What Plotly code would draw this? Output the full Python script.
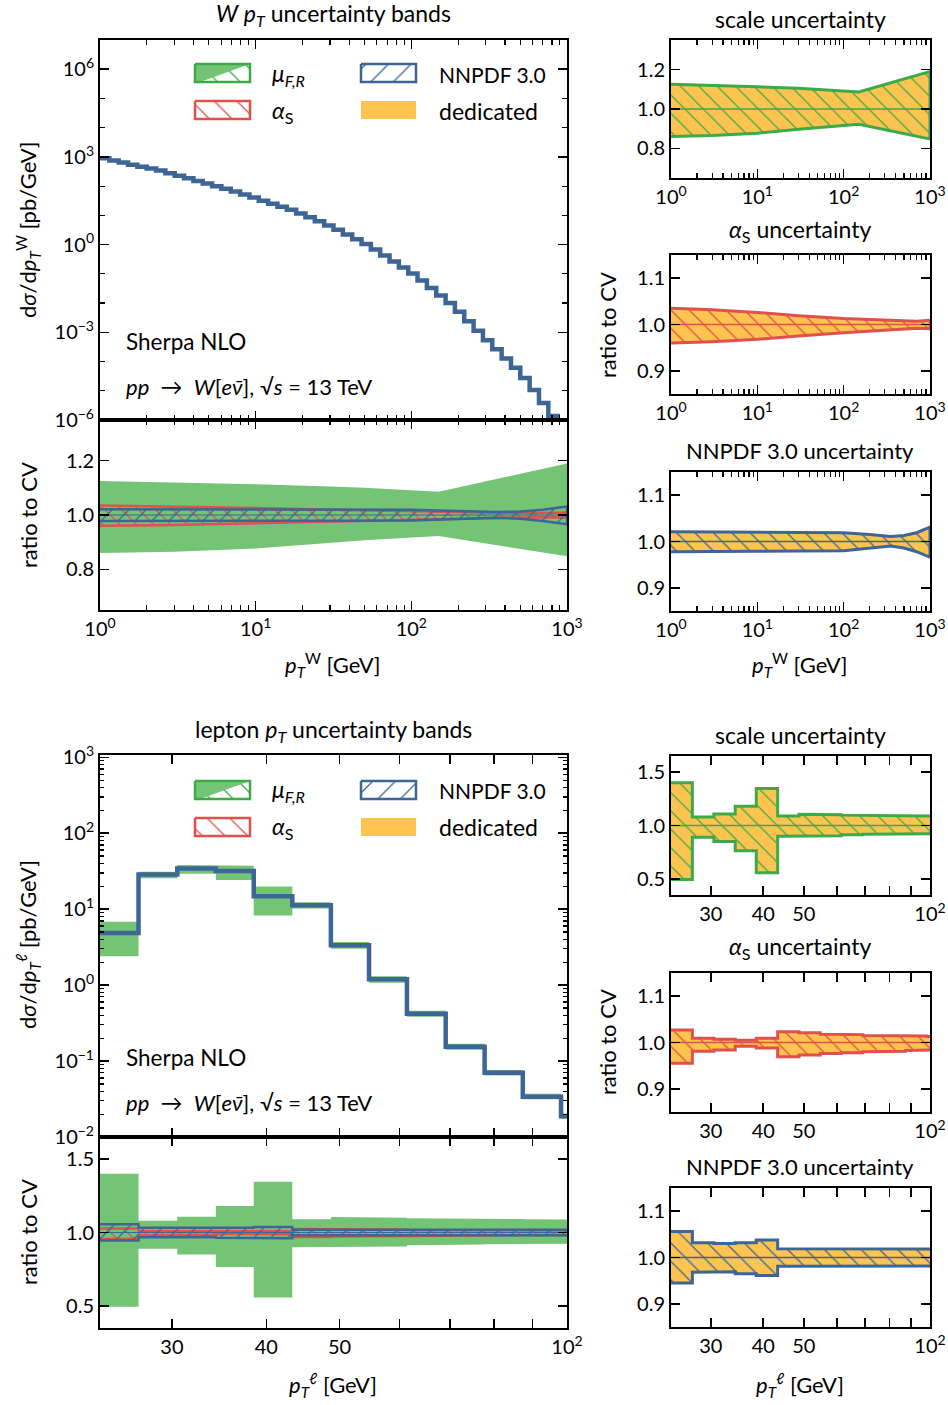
import plotly.graph_objects as go

W, H = 948, 1405
FONT = "Lato"

# ---------------- W pT distribution ----------------
w_edges = [1.0, 1.148, 1.318, 1.514, 1.738, 1.995, 2.291, 2.630, 3.020, 3.467,
           3.981, 4.571, 5.248, 6.026, 6.918, 7.943, 9.120, 10.47, 12.02, 13.80,
           15.85, 18.20, 20.89, 23.99, 27.54, 31.62, 36.31, 41.69, 47.86, 54.95,
           63.10, 72.44, 83.18, 95.50, 109.6, 125.9, 144.5, 166.0, 190.5, 218.8,
           251.2, 288.4, 331.1, 380.2, 436.5, 501.2, 575.4, 660.7, 758.6, 871.0, 1000.0]
w_xsec = [900, 760, 640, 545, 465, 398, 340, 279, 228, 185,
          151, 123, 100, 82.2, 65.2, 51.4, 40.6, 31.9, 25.2, 19.9,
          15.6, 11.7, 8.55, 6.24, 4.55, 3.23, 2.22, 1.53, 1.05, 0.681,
          0.424, 0.264, 0.164, 0.102, 0.0589, 0.0327, 0.0182, 0.0101, 5.06e-3, 2.40e-3,
          1.14e-3, 5.35e-4, 2.61e-4, 1.27e-4, 6.19e-5, 2.73e-5, 1.07e-5, 3.85e-6, 1.36e-6, 5.0e-7]

w_scale_pt = [1, 3, 10, 30, 50, 150, 1000]
w_scale_up = [1.125, 1.120, 1.113, 1.105, 1.100, 1.086, 1.190]
w_scale_dn = [0.860, 0.865, 0.877, 0.897, 0.907, 0.923, 0.848]

w_alpha_pt = [1, 3, 10, 30, 100, 300, 700, 1000]
w_alpha_up = [1.035, 1.032, 1.026, 1.019, 1.013, 1.009, 1.007, 1.009]
w_alpha_dn = [0.960, 0.963, 0.968, 0.975, 0.982, 0.988, 0.992, 0.991]

w_pdf_pt = [1, 10, 100, 200, 350, 500, 700, 1000]
w_pdf_up = [1.021, 1.020, 1.019, 1.015, 1.011, 1.013, 1.019, 1.031]
w_pdf_dn = [0.978, 0.979, 0.980, 0.985, 0.990, 0.986, 0.978, 0.966]

# ---------------- lepton pT distribution ----------------
l_edges = [24.1, 27.1, 30.5, 34.3, 38.5, 43.3, 48.7, 54.7, 61.4, 69.1, 77.8, 87.4, 98.2, 110.4]
l_xsec = [4.86, 28.7, 34.4, 31.7, 14.8, 11.3, 3.35, 1.19, 0.42, 0.154, 0.070, 0.034, 0.0188]
l_scale_up = [1.40, 1.08, 1.107, 1.18, 1.345, 1.09, 1.105, 1.10, 1.097, 1.095, 1.092, 1.09, 1.088]
l_scale_dn = [0.495, 0.89, 0.85, 0.765, 0.557, 0.90, 0.90, 0.905, 0.913, 0.918, 0.92, 0.922, 0.925]
l_alpha_up = [1.027, 1.009, 1.007, 1.005, 1.009, 1.023, 1.021, 1.018, 1.017, 1.015, 1.014, 1.014, 1.013]
l_alpha_dn = [0.955, 0.981, 0.984, 0.992, 0.988, 0.969, 0.973, 0.976, 0.978, 0.980, 0.981, 0.983, 0.984]
l_pdf_up = [1.056, 1.032, 1.030, 1.032, 1.038, 1.019, 1.019, 1.019, 1.019, 1.018, 1.018, 1.018, 1.018]
l_pdf_dn = [0.945, 0.968, 0.969, 0.965, 0.961, 0.981, 0.981, 0.981, 0.982, 0.982, 0.982, 0.982, 0.982]

# ---------------- styles ----------------
GREEN_FILL = "#74c476"
GREEN = "#3daa48"
RED = "#e0504c"
BLUE = "#3d6595"
YELLOW = "#fec44f"
CLEAR = "rgba(0,0,0,0)"
TXT = 23


def steps(edges, vals):
    xs, ys = [], []
    for i, v in enumerate(vals):
        xs += [edges[i], edges[i + 1]]
        ys += [v, v]
    return xs, ys


def poly(x, up, dn):
    return list(x) + list(x)[::-1], list(up) + list(dn)[::-1]


def step_poly(edges, up, dn):
    xs, yu = steps(edges, up)
    _, yd = steps(edges, dn)
    return poly(xs, yu, yd)


def scaled(central, ratio):
    return [c * r for c, r in zip(central, ratio)]


fig = go.Figure()


def ax_ref(n):
    return ("x" if n == 1 else f"x{n}"), ("y" if n == 1 else f"y{n}")


def add_area(n, xs, ys, fill=None, pattern=None, lc=None, lw=0.0):
    xa, ya = ax_ref(n)
    kw = {}
    if pattern is not None:
        kw["fillpattern"] = pattern
    fig.add_trace(go.Scatter(
        x=xs, y=ys, xaxis=xa, yaxis=ya, mode="lines", fill="toself",
        fillcolor=fill if fill else CLEAR,
        line=dict(color=lc if lc else CLEAR, width=lw),
        hoverinfo="skip", showlegend=False, **kw))


def add_line(n, xs, ys, color, width, shape="linear"):
    xa, ya = ax_ref(n)
    fig.add_trace(go.Scatter(x=xs, y=ys, xaxis=xa, yaxis=ya, mode="lines",
                             line=dict(color=color, width=width, shape=shape),
                             hoverinfo="skip", showlegend=False))


def hatch(shape, fg, bg=CLEAR, size=12, solidity=0.11):
    return dict(shape=shape, fgcolor=fg, bgcolor=bg, size=size, solidity=solidity, fillmode="replace")


# ======== top block (W pT) ========
sx, sy = steps(w_edges, w_xsec)
add_line(1, sx, sy, BLUE, 4.5)

add_area(2, *poly(w_scale_pt, w_scale_up, w_scale_dn), fill=GREEN_FILL)
add_area(2, *poly(w_alpha_pt, w_alpha_up, w_alpha_dn), pattern=hatch("\\", RED), lc=RED, lw=2.5)
add_area(2, *poly(w_pdf_pt, w_pdf_up, w_pdf_dn), pattern=hatch("/", BLUE), lc=BLUE, lw=2.5)
add_line(2, [1, 1000], [1, 1], BLUE, 1.2)

for n, (xp, up, dn, col) in zip([3, 4, 5], [(w_scale_pt, w_scale_up, w_scale_dn, GREEN),
                                          (w_alpha_pt, w_alpha_up, w_alpha_dn, RED),
                                          (w_pdf_pt, w_pdf_up, w_pdf_dn, BLUE)]):
    add_area(n, *poly(xp, up, dn), pattern=hatch("\\", col, YELLOW, 13, 0.1), lc=col, lw=3)
    add_line(n, [1, 1000], [1, 1], col, 1.5)

# ======== bottom block (lepton pT) ========
add_area(6, *step_poly(l_edges, scaled(l_xsec, l_scale_up), scaled(l_xsec, l_scale_dn)), fill=GREEN_FILL)
sx, sy = steps(l_edges, l_xsec)
add_line(6, sx, sy, BLUE, 4.5)

add_area(7, *step_poly(l_edges, l_scale_up, l_scale_dn), fill=GREEN_FILL)
add_area(7, *step_poly(l_edges, l_alpha_up, l_alpha_dn), pattern=hatch("\\", RED), lc=RED, lw=2.5)
add_area(7, *step_poly(l_edges, l_pdf_up, l_pdf_dn), pattern=hatch("/", BLUE), lc=BLUE, lw=2.5)
add_line(7, [l_edges[0], 100], [1, 1], BLUE, 1.2)

for n, (up, dn, col) in zip([8, 9, 10], [(l_scale_up, l_scale_dn, GREEN),
                                        (l_alpha_up, l_alpha_dn, RED),
                                        (l_pdf_up, l_pdf_dn, BLUE)]):
    add_area(n, *step_poly(l_edges, up, dn), pattern=hatch("\\", col, YELLOW, 13, 0.1), lc=col, lw=3)
    add_line(n, [l_edges[0], 100], [1, 1], col, 1.5)


# ======== legends (overlay axis in pixel units) ========
def rect(x0, x1, y0, y1):
    return [x0, x1, x1, x0, x0], [y0, y0, y1, y1, y0]


for dy in (0, 717):
    add_area(11, *rect(195, 250, 64 + dy, 82 + dy), pattern=hatch("\\", GREEN, "white", 16, 0.08))
    add_area(11, [195, 250, 200, 195, 195], [64 + dy, 64 + dy, 82 + dy, 82 + dy, 64 + dy], fill=GREEN_FILL)
    add_area(11, *rect(195, 250, 64 + dy, 82 + dy), lc=GREEN, lw=2.5)
    add_area(11, *rect(195, 250, 101 + dy, 119 + dy), pattern=hatch("\\", RED, "white", 16, 0.08), lc=RED, lw=2.5)
    add_area(11, *rect(361, 416, 64 + dy, 82 + dy), pattern=hatch("/", BLUE, "white", 16, 0.08), lc=BLUE, lw=2.5)
    add_area(11, *rect(361, 416, 101 + dy, 119 + dy), fill=YELLOW)


# ======== axes ========
def dom_x(a, b):
    return [a / W, b / W]


def dom_y(top, bot):
    return [1 - bot / H, 1 - top / H]


LEFT = dom_x(100, 567)
RIGHT = dom_x(671, 930)
TICKFONT = dict(family=FONT, size=20, color="black")

dec_minor = [m * 10 ** e for e in range(0, 3) for m in range(2, 10)]


def base_axis(**kw):
    d = dict(showline=True, linecolor="black", linewidth=2, mirror="allticks",
             ticks="inside", ticklen=9, tickwidth=1.5, tickcolor="black",
             showgrid=False, zeroline=False, tickfont=TICKFONT, fixedrange=True,
             automargin=False)
    d.update(kw)
    return d


def minor(vals, ln=5):
    return dict(ticks="inside", ticklen=ln, tickwidth=1.2, tickcolor="black", tickvals=vals, showgrid=False)


def sup10(e):
    s = str(e).replace("-", "\u2212")
    return f"10<sup>{s}</sup>"


top_x_vals = [1, 10, 100, 1000]
top_x_text = [sup10(0), sup10(1), sup10(2), sup10(3)]
low_x_vals = [30, 40, 50, 60, 70, 80, 90, 100]
low_x_text = ["30", "40", "50", "", "", "", "", sup10(2)]
LRANGE = [1.382, 2.0]

layout_axes = {}


def set_axes(n, xd, yd, xkw, ykw):
    xa, ya = ax_ref(n)
    xname = "xaxis" if n == 1 else f"xaxis{n}"
    yname = "yaxis" if n == 1 else f"yaxis{n}"
    layout_axes[xname] = base_axis(domain=xd, anchor=ya, **xkw)
    layout_axes[yname] = base_axis(domain=yd, anchor=xa, **ykw)


def logx_top(labels=True):
    return dict(type="log", range=[0, 3], tickmode="array", tickvals=top_x_vals,
                ticktext=top_x_text, showticklabels=labels, minor=minor(dec_minor))


def logx_low(labels=True):
    return dict(type="log", range=LRANGE, tickmode="array", tickvals=low_x_vals,
                ticktext=low_x_text, showticklabels=labels)


def lin_y(rng, vals):
    return dict(range=rng, tickmode="array", tickvals=vals, ticktext=[f"{v:.1f}" for v in vals])


main_y_major = [1e-6, 1e-3, 1, 1e3, 1e6]
main_y_minor = [1e-5, 1e-4, 1e-2, 1e-1, 10, 100, 1e4, 1e5]
set_axes(1, LEFT, dom_y(40, 420), logx_top(False),
         dict(type="log", range=[-6, 7], tickmode="array", tickvals=main_y_major,
              ticktext=[sup10(e) for e in (-6, -3, 0, 3, 6)], minor=minor(main_y_minor)))
set_axes(2, LEFT, dom_y(420, 610), logx_top(True), lin_y([0.65, 1.35], [0.8, 1.0, 1.2]))
set_axes(3, RIGHT, dom_y(40, 178), logx_top(True), lin_y([0.65, 1.35], [0.8, 1.0, 1.2]))
set_axes(4, RIGHT, dom_y(255, 394), logx_top(True), lin_y([0.85, 1.15], [0.9, 1.0, 1.1]))
set_axes(5, RIGHT, dom_y(472, 611), logx_top(True), lin_y([0.85, 1.15], [0.9, 1.0, 1.1]))

low_y_major = [0.01, 0.1, 1, 10, 100, 1000]
low_y_minor = [m * 10 ** e for e in range(-2, 3) for m in range(2, 10)]
set_axes(6, LEFT, dom_y(755, 1137), logx_low(False),
         dict(type="log", range=[-2, 3.03], tickmode="array", tickvals=low_y_major,
              ticktext=[sup10(e) for e in (-2, -1, 0, 1, 2, 3)], minor=minor(low_y_minor, 4)))
set_axes(7, LEFT, dom_y(1137, 1328), logx_low(True), lin_y([0.35, 1.65], [0.5, 1.0, 1.5]))
set_axes(8, RIGHT, dom_y(756, 895), logx_low(True), lin_y([0.35, 1.65], [0.5, 1.0, 1.5]))
set_axes(9, RIGHT, dom_y(973, 1112), logx_low(True), lin_y([0.85, 1.15], [0.9, 1.0, 1.1]))
set_axes(10, RIGHT, dom_y(1188, 1327), logx_low(True), lin_y([0.85, 1.15], [0.9, 1.0, 1.1]))

layout_axes["xaxis11"] = dict(domain=[0, 1], range=[0, W], visible=False, anchor="y11",
                              fixedrange=True, automargin=False)
layout_axes["yaxis11"] = dict(domain=[0, 1], range=[H, 0], visible=False, anchor="x11",
                              fixedrange=True, automargin=False)

# ======== annotations ========
ann = []


def text(t, x, y, size=TXT, anchor="center", angle=0):
    ann.append(dict(text=t, x=x / W, y=1 - y / H, xref="paper", yref="paper",
                    xanchor=anchor, yanchor="middle", showarrow=False, textangle=angle,
                    font=dict(family=FONT, size=size, color="black")))


pT = "<i>p</i><sub><i>T</i></sub>"
text(f"<i>W</i> {pT} uncertainty bands", 333, 14)
text(f"lepton {pT} uncertainty bands", 333, 730)
for dy in (0, 716):
    text("scale uncertainty", 800, 19 + dy)
    text("<i>α</i><sub>S</sub> uncertainty", 800, 231 + dy)
    text("NNPDF 3.0 uncertainty", 800, 450 + dy, 22)
    text("<i>μ</i><sub><i>F,R</i></sub>", 270, 74 + dy, TXT, "left")
    text("<i>α</i><sub>S</sub>", 270, 111 + dy, TXT, "left")
    text("NNPDF 3.0", 437, 74 + dy, 21, "left")
    text("dedicated", 437, 111 + dy, TXT, "left")
    text("Sherpa NLO", 124, 341 + dy, 22.5, "left")
    text("<i>pp</i>  →  <i>W</i>[<i>e</i><i>ν\u0304</i>], √<i>s</i> = 13 TeV", 124, 386 + dy, 22, "left")

text(f"{pT}<sup>W</sup> [GeV]", 333, 665, 22)
text(f"{pT}<sup>W</sup> [GeV]", 800, 665, 22)
text(f"{pT}<sup>ℓ</sup> [GeV]", 333, 1385, 22)
text(f"{pT}<sup>ℓ</sup> [GeV]", 800, 1385, 22)
for x, y in [(28, 515), (28, 1232), (607, 325), (607, 1042)]:
    text("ratio to CV", x, y, 22, "center", -90)
text(f"d<i>σ</i>/d{pT}<sup>W</sup> [pb/GeV]", 28, 230, 22, "center", -90)
text(f"d<i>σ</i>/d{pT}<sup>ℓ</sup> [pb/GeV]", 28, 945, 22, "center", -90)

fig.update_layout(
    width=W, height=H,
    margin=dict(l=0, r=0, t=0, b=0, autoexpand=False),
    paper_bgcolor="white", plot_bgcolor="rgba(0,0,0,0)",
    showlegend=False,
    font=dict(family=FONT, size=18, color="black"),
    annotations=ann,
    **layout_axes,
)

fig.write_html("out.html", config={"displayModeBar": False, "staticPlot": True},
               post_script="document.body.style.margin='0px';document.body.style.overflow='hidden';")
